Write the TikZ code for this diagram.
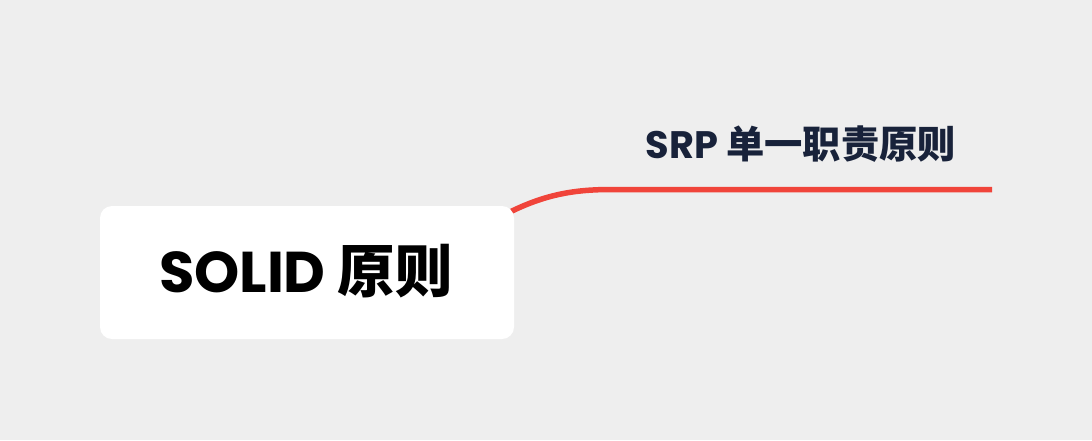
\documentclass[tikz,border=0pt]{standalone}
\usepackage{fontspec}
\newfontfamily\pop{Poppins}
\newfontfamily\cjk{Noto Sans CJK SC}
\definecolor{bg}{HTML}{EEEEEE}
\definecolor{branch}{HTML}{F0443A}
\definecolor{navy}{HTML}{18223A}
\tikzset{
  rootbox/.style={fill=white, rounded corners=12pt, minimum width=414pt, minimum height=133pt, inner sep=0pt},
  rootlabel/.style={font=\fontsize{57.5}{60}\selectfont, text=black},
  topic/.style={font=\fontsize{38.3}{44}\selectfont, text=navy, inner sep=0pt},
  branchline/.style={draw=branch, line width=5.5pt, line cap=butt}
}
\begin{document}
\begin{tikzpicture}[x=1pt,y=-1pt]
\fill[bg] (0,0) rectangle (1092,440);
\useasboundingbox (0,0) rectangle (1092,440);
\coordinate (s) at (612,189.5);
\coordinate (e) at (992,189.5);
\coordinate (a) at (506,214);
\draw[branchline] (a) .. controls (545,194) and (575,189.5) .. (s) -- (e);
\node[rootbox] (root) at (307,272.5) {};
\node[rootlabel, anchor=base] (rl) at (306,292) {\pop\bfseries SOLID \cjk\bfseries 原则};
\node[topic, anchor=base] (srp) at (801,158) {\pop\bfseries SRP \cjk\bfseries 单一职责原则};
\end{tikzpicture}
\end{document}
